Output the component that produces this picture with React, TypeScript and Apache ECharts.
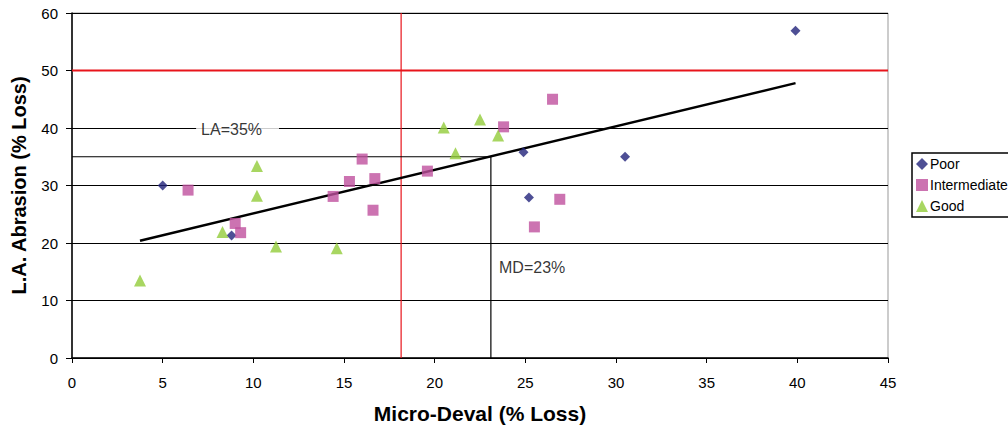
import React, { useEffect, useRef } from "react";
import * as echarts from "echarts";

const poorData: [number, number][] = [
  [5.0, 30.0], [8.8, 21.3], [24.9, 35.8], [25.2, 27.9], [30.5, 35.0], [39.9, 56.9],
];
const intermediateData: [number, number][] = [
  [6.4, 29.2], [9.0, 23.4], [9.3, 21.8], [14.4, 28.1], [15.3, 30.7], [16.0, 34.6],
  [16.7, 31.2], [16.6, 25.7], [19.6, 32.5], [23.8, 40.2], [26.5, 45.0], [26.9, 27.6], [25.5, 22.8],
];
const goodData: [number, number][] = [
  [3.75, 13.5], [8.3, 21.9], [10.2, 28.2], [10.2, 33.4], [11.25, 19.4], [14.6, 19.1],
  [20.5, 40.1], [22.5, 41.5], [23.5, 38.7], [21.15, 35.6],
];
const trendLine: [number, number][] = [[3.75, 20.4], [39.9, 47.8]];
const laLimit: [number, number][] = [[0, 50], [45, 50]];
const mdLimit: [number, number][] = [[18.15, 0], [18.15, 60]];
const criteriaLines: [number, number][] = [[0, 35], [23.1, 35], [23.1, 0]];
const laLabelPos: [number, number][] = [[9.13, 39.8]];
const mdLabelPos: [number, number][] = [[23.55, 15.7]];

export default function App() {
  const ref = useRef<HTMLDivElement>(null);
  useEffect(() => {
    if (!ref.current) return;
    const chart = echarts.init(ref.current, undefined, { renderer: "svg" });
    const font = "'Liberation Sans', Arial, sans-serif";
    chart.setOption({
      animation: false,
      grid: {
        left: 72, right: 120, top: 13, bottom: 71,
        show: true, borderColor: "#999", borderWidth: 1, backgroundColor: "transparent",
      },
      legend: {
        orient: "vertical", left: 912, top: 153,
        borderColor: "#000", borderWidth: 1.5, padding: [4, 6, 4, 4],
        itemWidth: 12, itemHeight: 12, itemGap: 7,
        textStyle: { fontFamily: font, fontSize: 14, color: "#000", padding: [0, 0, 0, -3] },
        data: ["Poor", "Intermediate", "Good"],
      },
      xAxis: {
        type: "value", min: 0, max: 45, interval: 5,
        name: "Micro-Deval (% Loss)", nameLocation: "middle", nameGap: 45,
        nameTextStyle: { fontFamily: font, fontSize: 21, fontWeight: "bold", color: "#000" },
        axisLine: { show: true, onZero: false, lineStyle: { color: "#000", width: 1.5 } },
        axisTick: { show: true, length: 5, inside: false, lineStyle: { color: "#000" } },
        axisLabel: { fontFamily: font, fontSize: 15, color: "#000", margin: 17 },
        splitLine: { show: false },
      },
      yAxis: {
        type: "value", min: 0, max: 60, interval: 10,
        name: "L.A. Abrasion (% Loss)", nameLocation: "middle", nameGap: 43,
        nameTextStyle: { fontFamily: font, fontSize: 20, fontWeight: "bold", color: "#000" },
        axisLine: { show: true, onZero: false, lineStyle: { color: "#000", width: 1.5 } },
        axisTick: { show: true, length: 6, inside: false, lineStyle: { color: "#000" } },
        axisLabel: { fontFamily: font, fontSize: 15, color: "#000", margin: 14 },
        splitLine: { show: true, lineStyle: { color: "#000", width: 1.2 } },
      },
      series: [
        {
          name: "MD limit", type: "line", data: mdLimit, symbol: "none", silent: true,
          lineStyle: { color: "#E8141B", width: 1.2 }, z: 3,
        },
        {
          name: "LA limit", type: "line", data: laLimit, symbol: "none", silent: true,
          lineStyle: { color: "#E8141B", width: 2 }, z: 3,
        },
        {
          name: "Criteria", type: "line", data: criteriaLines, symbol: "none", silent: true,
          lineStyle: { color: "#000", width: 1.2 }, z: 3,
        },
        {
          name: "Trend", type: "line", data: trendLine, symbol: "none", silent: true,
          lineStyle: { color: "#000", width: 2.5 }, z: 4,
        },
        {
          name: "LA label", type: "scatter", data: laLabelPos, symbolSize: 0, silent: true, z: 5,
          label: {
            show: true, position: "inside", formatter: "LA=35%", fontFamily: font, fontSize: 16,
            color: "#000", backgroundColor: "#fff", padding: [1, 17, 1, 5],
          },
        },
        {
          name: "MD label", type: "scatter", data: mdLabelPos, symbolSize: 0, silent: true, z: 5,
          label: {
            show: true, position: "right", distance: 0, formatter: "MD=23%", fontFamily: font, fontSize: 16,
            color: "#000",
          },
        },
        {
          name: "Poor", type: "scatter", data: poorData, symbol: "diamond", symbolSize: 10,
          itemStyle: { color: "#22237A" }, z: 6,
        },
        {
          name: "Intermediate", type: "scatter", data: intermediateData, symbol: "rect", symbolSize: 11,
          itemStyle: { color: "#BF509E" }, z: 6,
        },
        {
          name: "Good", type: "scatter", data: goodData, symbol: "triangle", symbolSize: 12,
          itemStyle: { color: "#92CC3A" }, z: 6,
        },
      ],
    });
    return () => chart.dispose();
  }, []);
  return (
    <div
      ref={ref}
      style={{ position: "fixed", left: 0, top: 0, width: 1008, height: 429, background: "#fff" }}
    />
  );
}
